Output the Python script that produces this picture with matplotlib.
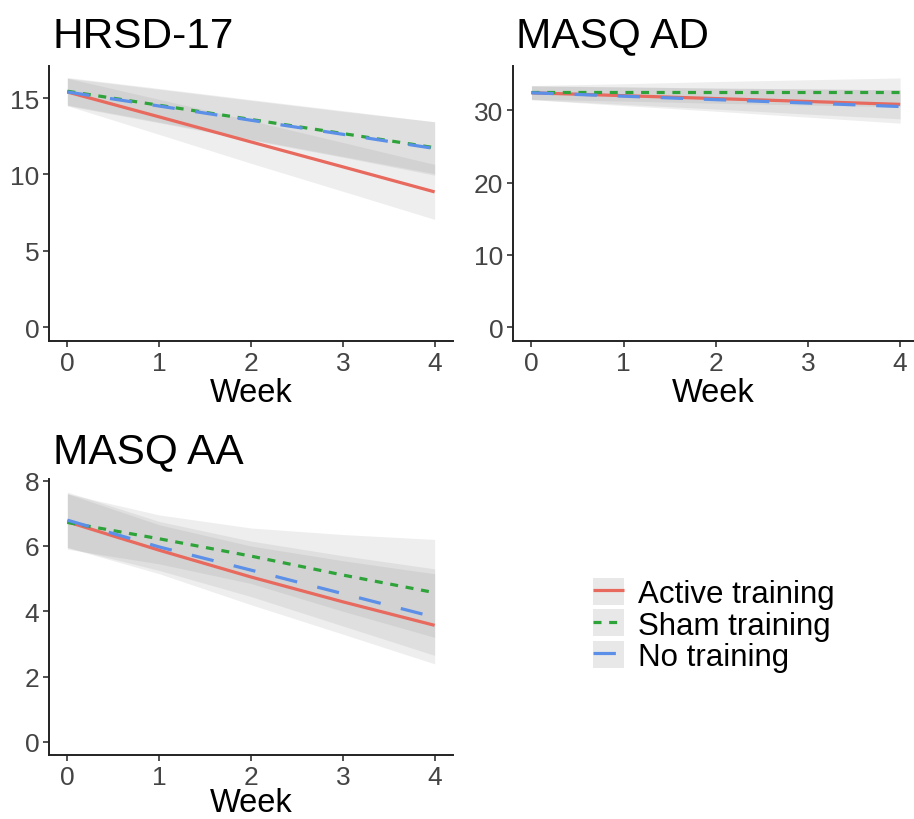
import numpy as np
import matplotlib
matplotlib.use("Agg")
import matplotlib.pyplot as plt
from matplotlib.lines import Line2D
from matplotlib.patches import Patch
from matplotlib.legend_handler import HandlerTuple

plt.rcParams['font.family'] = ['Liberation Sans', 'DejaVu Sans']

# semanas
weeks = [0, 1, 2, 3, 4]
groups = ["Active training", "Sham training", "No training"]

# HRSD-17: media estimada y banda de confianza
hrsd_active = [15.4, 13.77, 12.13, 10.5, 8.86]
hrsd_active_lo = [14.5, 12.62, 10.73, 8.9, 7.06]
hrsd_active_hi = [16.3, 14.92, 13.53, 12.1, 10.66]
hrsd_sham = [15.45, 14.53, 13.6, 12.68, 11.75]
hrsd_sham_lo = [14.55, 13.43, 12.3, 11.18, 10.05]
hrsd_sham_hi = [16.35, 15.63, 14.9, 14.18, 13.45]
hrsd_none = [15.4, 14.48, 13.55, 12.63, 11.7]
hrsd_none_lo = [14.5, 13.38, 12.25, 11.13, 9.95]
hrsd_none_hi = [16.3, 15.58, 14.85, 14.13, 13.45]

# MASQ AD
ad_active = [32.4, 32.0, 31.6, 31.2, 30.8]
ad_active_lo = [31.45, 30.8, 30.15, 29.45, 28.8]
ad_active_hi = [33.35, 33.2, 33.05, 32.95, 32.8]
ad_sham = [32.45, 32.45, 32.45, 32.45, 32.45]
ad_sham_lo = [31.5, 31.25, 30.95, 30.7, 30.45]
ad_sham_hi = [33.4, 33.65, 33.95, 34.2, 34.45]
ad_none = [32.4, 31.93, 31.45, 30.98, 30.5]
ad_none_lo = [31.45, 30.63, 29.85, 29.03, 28.2]
ad_none_hi = [33.35, 33.23, 33.05, 32.93, 32.8]

# MASQ AA
aa_active = [6.74, 5.87, 5.05, 4.29, 3.57]
aa_active_lo = [5.95, 5.15, 4.2, 3.3, 2.39]
aa_active_hi = [7.6, 6.65, 6.0, 5.55, 5.15]
aa_sham = [6.72, 6.22, 5.69, 5.11, 4.57]
aa_sham_lo = [5.9, 5.45, 4.85, 4.0, 3.2]
aa_sham_hi = [7.6, 6.95, 6.55, 6.35, 6.2]
aa_none = [6.79, 5.97, 5.26, 4.54, 3.82]
aa_none_lo = [5.95, 5.25, 4.45, 3.55, 2.65]
aa_none_hi = [7.65, 6.75, 6.15, 5.7, 5.3]

colores = ['#E8695E', '#2EA33A', '#5B8FE8']
estilos = [(0, ()), (0, (2.5, 2.4)), (0, (7, 6.5))]
lw = 2.3
ribbon_col = '#808080'
ribbon_alpha = 0.13

fig = plt.figure(figsize=(9.14, 8.2), dpi=100)
W, H = 914, 820

def ejes(l, r, t, b):
    return fig.add_axes([l / W, 1 - b / H, (r - l) / W, (b - t) / H])

ax1 = ejes(49, 453, 67, 342)
ax2 = ejes(513, 914, 67, 342)
ax3 = ejes(49, 453, 480, 756)

paneles = [
    (ax1, [(hrsd_active, hrsd_active_lo, hrsd_active_hi),
           (hrsd_sham, hrsd_sham_lo, hrsd_sham_hi),
           (hrsd_none, hrsd_none_lo, hrsd_none_hi)],
     (-0.9, 17.1), [0, 5, 10, 15], (-0.2, 4.2), 1.5),
    (ax2, [(ad_active, ad_active_lo, ad_active_hi),
           (ad_sham, ad_sham_lo, ad_sham_hi),
           (ad_none, ad_none_lo, ad_none_hi)],
     (-1.9, 36.1), [0, 10, 20, 30], (-0.2, 4.15), 1.5),
    (ax3, [(aa_active, aa_active_lo, aa_active_hi),
           (aa_sham, aa_sham_lo, aa_sham_hi),
           (aa_none, aa_none_lo, aa_none_hi)],
     (-0.4, 8.05), [0, 2, 4, 6, 8], (-0.2, 4.2), -1.5),
]

for ax, series, ylim, yt, xlim, lpad in paneles:
    for media, lo, hi in series:
        ax.fill_between(weeks, lo, hi, color=ribbon_col, alpha=ribbon_alpha, lw=0)
    for i, (media, lo, hi) in enumerate(series):
        ax.plot(weeks, media, color=colores[i], lw=lw, linestyle=estilos[i], zorder=3)
    ax.set_xlim(xlim)
    ax.set_ylim(ylim)
    ax.set_xticks(weeks)
    ax.set_yticks(yt)
    for s in ['top', 'right']:
        ax.spines[s].set_visible(False)
    for s in ['left', 'bottom']:
        ax.spines[s].set_linewidth(1.4)
        ax.spines[s].set_color('#222222')
    ax.tick_params(labelsize=19, colors='#222222', labelcolor='#444444',
                   length=4, width=1.1, pad=3)
    ax.set_xlabel("Week", fontsize=23.5, labelpad=lpad)

fig.text(52 / W, 1 - 48 / H, "HRSD-17", fontsize=30.5, ha='left', va='baseline')
fig.text(516 / W, 1 - 47 / H, "MASQ AD", fontsize=30.5, ha='left', va='baseline')
fig.text(53 / W, 1 - 463 / H, "MASQ AA", fontsize=30.5, ha='left', va='baseline')

# leyenda con fondo gris en las claves
handles = []
for i in range(3):
    fondo = Patch(facecolor='#e8e8e8', edgecolor='none')
    linea = Line2D([], [], color=colores[i], lw=lw, linestyle=estilos[i])
    handles.append((fondo, linea))

fig.legend(handles, groups, loc='center left', bbox_to_anchor=(593 / W, 1 - 626 / H),
           frameon=False, fontsize=22.5, handlelength=1.0, handleheight=0.95,
           labelspacing=0.02, handletextpad=0.45, borderpad=0, borderaxespad=0,
           handler_map={tuple: HandlerTuple(ndivide=1, pad=0)})

plt.savefig("out.png", dpi=100)
